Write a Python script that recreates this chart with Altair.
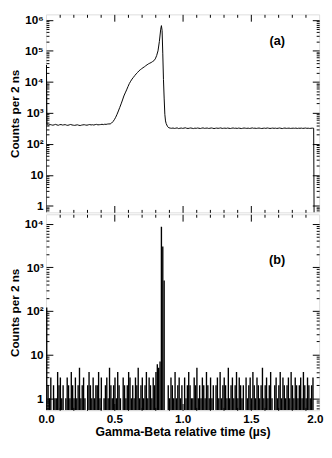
import altair as alt
import pandas as pd

FONT = "Liberation Sans"
W = 280
H_TOP = 203
H_BOT = 201

# ---------------- data (a) ----------------
top_start_t = [0.0, 0.003, 0.007]
top_start_c = [0.1, 35000, 420]
# t = 0.01 ... 0.46 (step 0.01)
left_base = [415, 405, 420, 410, 400, 412, 425, 408, 398, 415, 420, 405, 410, 418, 402, 396,
             410, 422, 408, 400, 395, 405, 412, 398, 390, 402, 410, 415, 405, 400, 412, 420,
             408, 415, 405, 418, 425, 410, 415, 420, 428, 418, 430, 425, 435, 440]
rise_t = [0.47, 0.48, 0.49, 0.50, 0.51, 0.52, 0.53, 0.54, 0.55, 0.56, 0.57, 0.58, 0.59, 0.60,
          0.61, 0.62, 0.63, 0.64, 0.65, 0.66, 0.67, 0.68, 0.69, 0.70, 0.71, 0.72, 0.73, 0.74,
          0.75, 0.76, 0.77, 0.78, 0.79, 0.80, 0.81, 0.82, 0.83, 0.84, 0.845, 0.85, 0.855,
          0.86, 0.865, 0.87, 0.875, 0.88, 0.89]
rise_c = [440, 470, 520, 600, 720, 900, 1150, 1500, 1950, 2600, 3500, 4400, 5500, 7000,
          8800, 10500, 12300, 14000, 16000, 18000, 20000, 22500, 24500, 26500, 28500, 30500,
          33000, 35500, 38000, 40000, 42000, 45000, 48000, 55000, 70000, 100000, 200000,
          500000, 650000, 450000, 80000, 12000, 3000, 900, 550, 450, 360]
# t = 0.90 ... 1.96 (step 0.01)
right_base = [330, 322, 318, 325, 315, 320, 328, 312, 318, 324,
              316, 322, 330, 318, 314, 320, 326, 318, 312, 322,
              317, 325, 319, 313, 321, 328, 316, 320, 324, 315,
              318, 326, 320, 312, 318, 323, 317, 321, 327, 315,
              319, 322, 316, 324, 318, 313, 320, 326, 317, 321,
              315, 323, 319, 312, 318, 325, 320, 316, 322, 314,
              319, 327, 318, 321, 315, 320, 324, 317, 313, 319,
              322, 316, 326, 320, 314, 318, 323, 317, 321, 315,
              319, 325, 318, 312, 320, 324, 316, 319, 322, 315,
              318, 321, 317, 323, 314, 320, 318, 322, 316, 319,
              324, 317, 320, 315, 318, 322, 319]
top_end_t = [1.964]
top_end_c = [0.1]

# ---------------- data (b) : counts in 0.01 us bins, t = 0.00 ... 1.99 ----------------
bot_counts = ([120] +
              [2, 1, 3, 0, 2, 1, 1, 4, 2, 3, 1, 2, 0, 1, 3, 2, 1, 4, 2, 1,
               3, 1, 2, 5, 1, 2, 3, 1, 0, 2, 4, 2, 1, 3, 1, 2, 2, 4, 1, 3,
               0, 1, 2, 3, 1, 5, 2, 1, 2, 3, 1, 4, 2, 1, 0, 3, 2, 1, 2, 4,
               3, 1, 2, 1, 3, 2, 5, 1, 2, 3, 1, 2, 4, 1, 3, 2, 1, 3, 2] +
              [4, 6, 5, 7] + [8500, 3000, 500] + [0, 0] +
              [2, 1, 3, 2, 1, 4, 1, 2, 3, 1, 2, 0, 3, 1, 2, 4, 2, 1, 1, 3,
               2, 5, 1, 2, 1, 3, 2, 1, 4, 2, 1, 3, 1, 2, 0, 2, 3, 1, 4, 1,
               2, 3, 2, 1, 5, 1, 2, 3, 1, 2, 4, 1, 3, 2, 1, 2, 0, 3, 1, 2,
               3, 1, 4, 2, 1, 3, 2, 1, 2, 5, 1, 2, 3, 1, 2, 4, 1, 0, 2, 3,
               1, 2, 4, 1, 3, 2, 1, 2, 3, 1, 4, 2, 1, 3, 2, 1, 2, 3, 1, 4,
               2, 1, 3, 2, 1, 2, 3] +
              [0, 0, 0, 0])

x_major = [0.5, 1.0, 1.5]
x_minor = [0.1, 0.2, 0.3, 0.4, 0.6, 0.7, 0.8, 0.9, 1.1, 1.2, 1.3, 1.4, 1.6, 1.7, 1.8, 1.9]
x_labels = [0.0, 0.5, 1.0, 1.5]
x_last_label = [2.0]

top_dom = [0.62, 1.5e6]
bot_dom = [0.53, 16400]
top_major = [1, 10, 100, 1000, 10000, 100000, 1000000]
bot_major = [1, 10, 100, 1000, 10000]
top_minor = [0.7, 0.8, 0.9] + [k * 10 ** d for d in range(0, 6) for k in range(2, 10)]
bot_minor = [0.6, 0.7, 0.8, 0.9] + [k * 10 ** d for d in range(0, 4) for k in range(2, 10)]

# ---------------- tables ----------------
t_all = (top_start_t + [round(0.01 * (i + 1), 3) for i in range(len(left_base))] + rise_t +
         [round(0.90 + 0.01 * i, 3) for i in range(len(right_base))] + top_end_t)
c_all = top_start_c + left_base + rise_c + right_base + top_end_c
df_top = pd.DataFrame({"t": t_all, "c": c_all})
df_bot = pd.DataFrame({"t": [round(0.01 * i + 0.005, 3) for i in range(len(bot_counts))],
                       "c": bot_counts})
df_bot = df_bot[df_bot["c"] > 0]
df_top_in = df_top[(df_top["c"] >= top_dom[0]) & (df_top["c"] <= top_dom[1])]

xscale = alt.Scale(domain=[0, 2.0], nice=False, zero=False)

LABEL_EXPR = ("datum.value == 1 ? '1' : datum.value == 10 ? '10' : datum.value == 100 ? '10²' : "
              "datum.value == 1000 ? '10³' : datum.value == 10000 ? '10⁴' : "
              "datum.value == 100000 ? '10⁵' : '10⁶'")


def tick_axis(orient, off, vals, sz):
    return alt.Axis(orient=orient, offset=off, values=vals, tickSize=sz, labels=False,
                    domain=False, grid=False, title=None, tickColor="black", tickWidth=1,
                    minExtent=0, maxExtent=0)


def tick_layers(df, yscale, ymajor, yminor, H):
    # inward ticks: left/bottom axes pushed inside the frame
    out = []
    for xoff, yoff, xv, yv, sz in [(-3, -3, x_minor, yminor, 3),
                                   (-7, -7, x_major, ymajor, 7),
                                   (-H, -W, x_minor, yminor, 3),
                                   (-H, -W, x_major, ymajor, 7)]:
        out.append(alt.Chart(df).mark_point(opacity=0, size=1, clip=True).encode(
            x=alt.X("t:Q", scale=xscale, axis=tick_axis("bottom", xoff, xv, sz)),
            y=alt.Y("c:Q", scale=yscale, axis=tick_axis("left", yoff, yv, sz)),
        ))
    return out


def y_label_axis(values):
    return alt.Axis(orient="left", values=values, labelExpr=LABEL_EXPR, ticks=False,
                    domain=False, grid=False, title="Counts per 2 ns", labelPadding=3,
                    titlePadding=3, labelFontSize=12, labelFontWeight="bold",
                    titleFontSize=12, titleFontWeight="bold", labelColor="black",
                    titleColor="black", labelFlush=False, minExtent=0)


def x_label_axis(values, title, align):
    return alt.Axis(orient="bottom", values=values, format=".1f", ticks=False,
                    domain=False, grid=False, title=title, labelPadding=3, titlePadding=2,
                    labelFontSize=12, labelFontWeight="bold", titleFontSize=12.5,
                    titleFontWeight="bold", labelColor="black", titleColor="black",
                    labelFlush=False, labelAlign=align, labelOffset=(4 if align == "right" else 0))


# ---------------- panel (a) ----------------
yscale_top = alt.Scale(type="log", domain=top_dom, nice=False)
line_a = alt.Chart(df_top).mark_line(color="black", strokeWidth=1, clip=True).encode(
    x=alt.X("t:Q", scale=xscale, axis=None),
    y=alt.Y("c:Q", scale=yscale_top, axis=y_label_axis(top_major)),
    order="t:Q",
)
lab_a = alt.Chart(pd.DataFrame({"lab": ["(a)"]})).mark_text(
    font=FONT, fontWeight="bold", fontSize=13, color="black").encode(
    x=alt.value(237), y=alt.value(27), text="lab:N")
top = alt.layer(line_a, *tick_layers(df_top_in, yscale_top, top_major, top_minor, H_TOP), lab_a
                ).resolve_axis(x="independent", y="independent").properties(width=W, height=H_TOP)

# ---------------- panel (b) ----------------
yscale_bot = alt.Scale(type="log", domain=bot_dom, nice=False)
bars_b = alt.Chart(df_bot).mark_rule(color="black", strokeWidth=1.4, clip=True).encode(
    x=alt.X("t:Q", scale=xscale,
            axis=x_label_axis(x_labels, "Gamma-Beta relative time (µs)", "center")),
    y=alt.Y("c:Q", scale=yscale_bot, axis=y_label_axis(bot_major)),
    y2=alt.value(H_BOT),
)
last_lab = alt.Chart(df_bot).mark_point(opacity=0, size=1, clip=True).encode(
    x=alt.X("t:Q", scale=xscale, axis=x_label_axis(x_last_label, None, "right")),
    y=alt.Y("c:Q", scale=yscale_bot, axis=None),
)
lab_b = alt.Chart(pd.DataFrame({"lab": ["(b)"]})).mark_text(
    font=FONT, fontWeight="bold", fontSize=13, color="black").encode(
    x=alt.value(237), y=alt.value(47), text="lab:N")
bot = alt.layer(bars_b, last_lab,
                *tick_layers(df_bot, yscale_bot, bot_major, bot_minor, H_BOT), lab_b
                ).resolve_axis(x="independent", y="independent").properties(width=W, height=H_BOT)

chart = alt.vconcat(top, bot, spacing=0, padding=0).configure_view(
    stroke="black", strokeWidth=1).configure_axis(
    labelFont=FONT, titleFont=FONT).configure(background="white")

chart.save("out.html", embed_options={"renderer": "svg", "actions": False})
